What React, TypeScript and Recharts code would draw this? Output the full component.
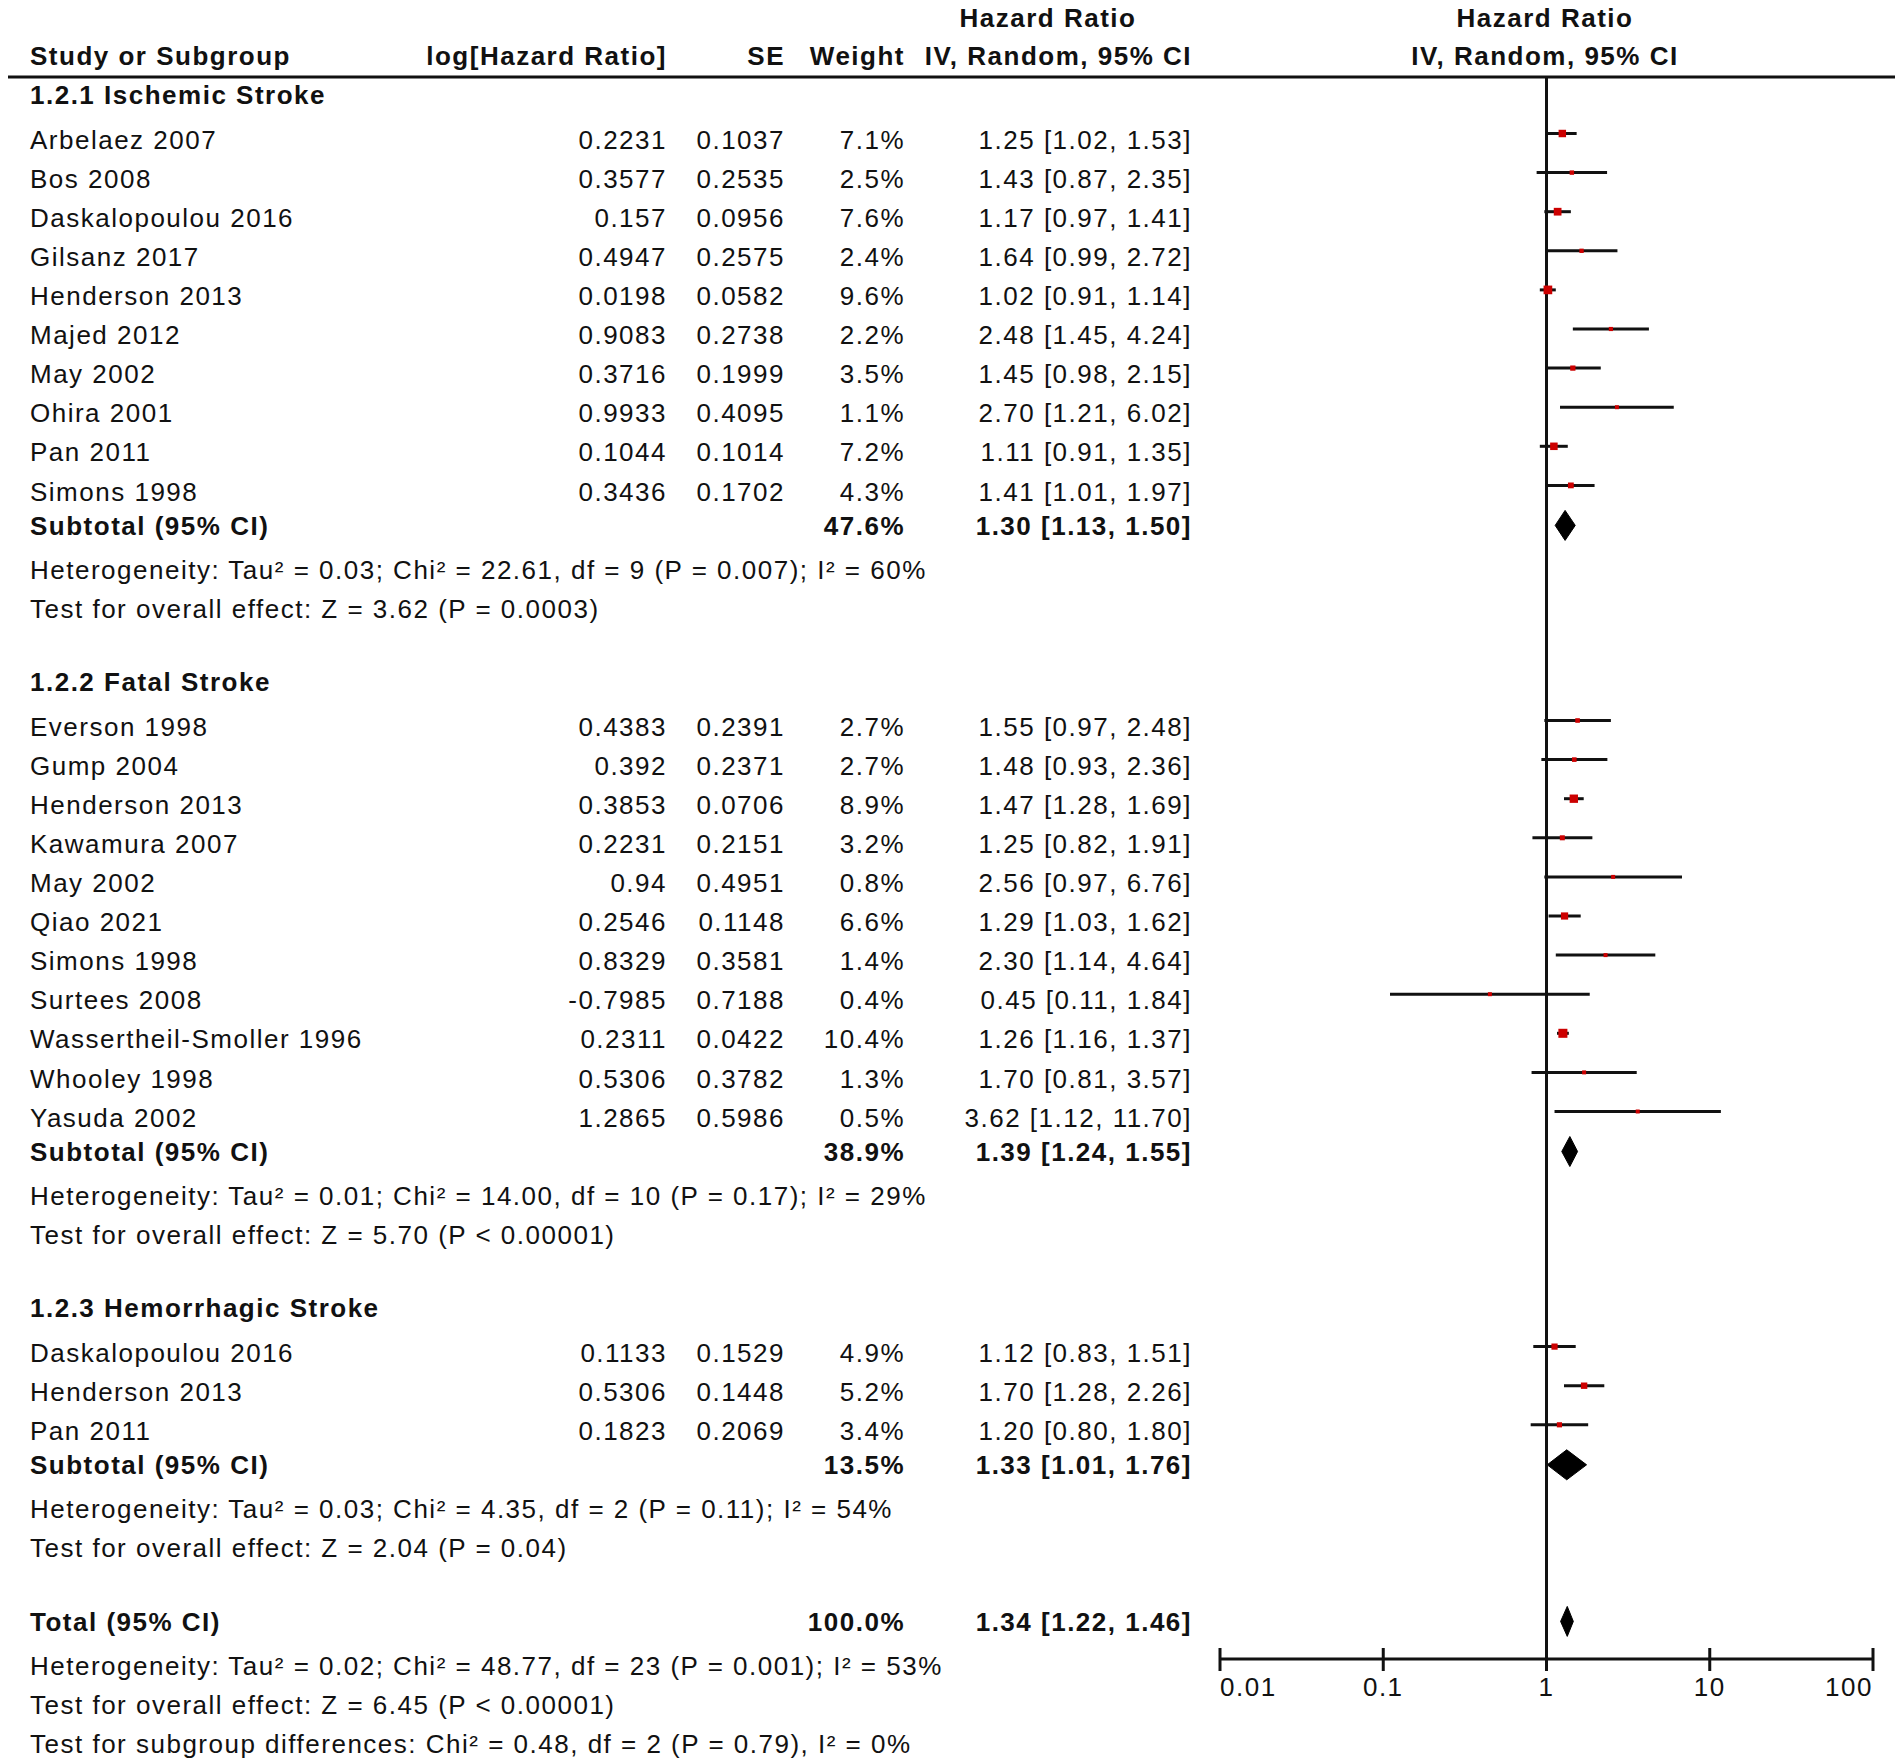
import React from "react";
import {
  ComposedChart,
  XAxis,
  YAxis,
  Scatter,
  ErrorBar,
  Area,
  ReferenceLine,
} from "recharts";

// ---- data ----
const ischemicStudies = [
  { name: "Arbelaez 2007", logHR: "0.2231", se: "0.1037", weight: 7.1, hr: 1.25, lo: 1.02, hi: 1.53 },
  { name: "Bos 2008", logHR: "0.3577", se: "0.2535", weight: 2.5, hr: 1.43, lo: 0.87, hi: 2.35 },
  { name: "Daskalopoulou 2016", logHR: "0.157", se: "0.0956", weight: 7.6, hr: 1.17, lo: 0.97, hi: 1.41 },
  { name: "Gilsanz 2017", logHR: "0.4947", se: "0.2575", weight: 2.4, hr: 1.64, lo: 0.99, hi: 2.72 },
  { name: "Henderson 2013", logHR: "0.0198", se: "0.0582", weight: 9.6, hr: 1.02, lo: 0.91, hi: 1.14 },
  { name: "Majed 2012", logHR: "0.9083", se: "0.2738", weight: 2.2, hr: 2.48, lo: 1.45, hi: 4.24 },
  { name: "May 2002", logHR: "0.3716", se: "0.1999", weight: 3.5, hr: 1.45, lo: 0.98, hi: 2.15 },
  { name: "Ohira 2001", logHR: "0.9933", se: "0.4095", weight: 1.1, hr: 2.7, lo: 1.21, hi: 6.02 },
  { name: "Pan 2011", logHR: "0.1044", se: "0.1014", weight: 7.2, hr: 1.11, lo: 0.91, hi: 1.35 },
  { name: "Simons 1998", logHR: "0.3436", se: "0.1702", weight: 4.3, hr: 1.41, lo: 1.01, hi: 1.97 },
];

const fatalStudies = [
  { name: "Everson 1998", logHR: "0.4383", se: "0.2391", weight: 2.7, hr: 1.55, lo: 0.97, hi: 2.48 },
  { name: "Gump 2004", logHR: "0.392", se: "0.2371", weight: 2.7, hr: 1.48, lo: 0.93, hi: 2.36 },
  { name: "Henderson 2013", logHR: "0.3853", se: "0.0706", weight: 8.9, hr: 1.47, lo: 1.28, hi: 1.69 },
  { name: "Kawamura 2007", logHR: "0.2231", se: "0.2151", weight: 3.2, hr: 1.25, lo: 0.82, hi: 1.91 },
  { name: "May 2002", logHR: "0.94", se: "0.4951", weight: 0.8, hr: 2.56, lo: 0.97, hi: 6.76 },
  { name: "Qiao 2021", logHR: "0.2546", se: "0.1148", weight: 6.6, hr: 1.29, lo: 1.03, hi: 1.62 },
  { name: "Simons 1998", logHR: "0.8329", se: "0.3581", weight: 1.4, hr: 2.3, lo: 1.14, hi: 4.64 },
  { name: "Surtees 2008", logHR: "-0.7985", se: "0.7188", weight: 0.4, hr: 0.45, lo: 0.11, hi: 1.84 },
  { name: "Wassertheil-Smoller 1996", logHR: "0.2311", se: "0.0422", weight: 10.4, hr: 1.26, lo: 1.16, hi: 1.37 },
  { name: "Whooley 1998", logHR: "0.5306", se: "0.3782", weight: 1.3, hr: 1.7, lo: 0.81, hi: 3.57 },
  { name: "Yasuda 2002", logHR: "1.2865", se: "0.5986", weight: 0.5, hr: 3.62, lo: 1.12, hi: 11.7 },
];

const hemorrhagicStudies = [
  { name: "Daskalopoulou 2016", logHR: "0.1133", se: "0.1529", weight: 4.9, hr: 1.12, lo: 0.83, hi: 1.51 },
  { name: "Henderson 2013", logHR: "0.5306", se: "0.1448", weight: 5.2, hr: 1.7, lo: 1.28, hi: 2.26 },
  { name: "Pan 2011", logHR: "0.1823", se: "0.2069", weight: 3.4, hr: 1.2, lo: 0.8, hi: 1.8 },
];

const groupTitles = ["1.2.1 Ischemic Stroke", "1.2.2 Fatal Stroke", "1.2.3 Hemorrhagic Stroke"];
const groupStudies = [ischemicStudies, fatalStudies, hemorrhagicStudies];

const subtotals = [
  { weight: 47.6, hr: 1.3, lo: 1.13, hi: 1.5 },
  { weight: 38.9, hr: 1.39, lo: 1.24, hi: 1.55 },
  { weight: 13.5, hr: 1.33, lo: 1.01, hi: 1.76 },
];

const heterogeneityNotes = [
  "Heterogeneity: Tau² = 0.03; Chi² = 22.61, df = 9 (P = 0.007); I² = 60%",
  "Heterogeneity: Tau² = 0.01; Chi² = 14.00, df = 10 (P = 0.17); I² = 29%",
  "Heterogeneity: Tau² = 0.03; Chi² = 4.35, df = 2 (P = 0.11); I² = 54%",
];

const effectNotes = [
  "Test for overall effect: Z = 3.62 (P = 0.0003)",
  "Test for overall effect: Z = 5.70 (P < 0.00001)",
  "Test for overall effect: Z = 2.04 (P = 0.04)",
];

const overall = { weight: 100.0, hr: 1.34, lo: 1.22, hi: 1.46 };

const overallNotes = [
  "Heterogeneity: Tau² = 0.02; Chi² = 48.77, df = 23 (P = 0.001); I² = 53%",
  "Test for overall effect: Z = 6.45 (P < 0.00001)",
  "Test for subgroup differences: Chi² = 0.48, df = 2 (P = 0.79), I² = 0%",
];

const axisTicks = [0.01, 0.1, 1, 10, 100];

// ---- layout ----
const W = 1902;
const H = 1763;
const PLOT_TOP = 77;
const AXIS_Y = 1659;
const PLOT_LEFT = 1220;
const PLOT_RIGHT = 1873;

const NAME_X = 30;
const LOG_X = 667;
const SE_X = 785;
const WEIGHT_X = 905;
const CI_X = 1192;
const CI_HEAD_X = 1048;
const PLOT_HEAD_X = 1545;

const ROW = 39.1;
const SECTION_GAP = 44.5;
const SUBTOTAL_GAP = 34;
const NOTE_GAP = 44;
const BLOCK_GAP = 73.5;

const INK = "#111";
const font = {
  fontFamily: "'Liberation Sans', Arial, sans-serif",
  fontSize: 26,
  letterSpacing: 1.5,
  fill: INK,
};

const ci = (d: { hr: number; lo: number; hi: number }) =>
  `${d.hr.toFixed(2)} [${d.lo.toFixed(2)}, ${d.hi.toFixed(2)}]`;

type Row = { kind: string; y: number; [k: string]: any };

function buildRows(): Row[] {
  const rows: Row[] = [
    { kind: "head1", y: 18 },
    { kind: "head2", y: 56 },
    { kind: "rule", y: PLOT_TOP },
  ];
  let y = 95;
  groupStudies.forEach((studies, g) => {
    rows.push({ kind: "section", y, text: groupTitles[g] });
    y += SECTION_GAP;
    studies.forEach((s, i) => {
      rows.push({ kind: "study", y, ...s });
      if (i < studies.length - 1) y += ROW;
    });
    y += SUBTOTAL_GAP;
    rows.push({ kind: "subtotal", y, label: "Subtotal (95% CI)", ...subtotals[g] });
    y += NOTE_GAP;
    rows.push({ kind: "note", y, text: heterogeneityNotes[g] });
    y += ROW;
    rows.push({ kind: "note", y, text: effectNotes[g] });
    y += BLOCK_GAP;
  });
  rows.push({ kind: "subtotal", y, label: "Total (95% CI)", ...overall });
  y += NOTE_GAP;
  overallNotes.forEach((t, i) => {
    rows.push({ kind: "note", y, text: t });
    if (i < overallNotes.length - 1) y += ROW;
  });
  return rows;
}

const rows = buildRows();
const rowByY = new Map(rows.map((r) => [r.y, r]));

const studyPoints = rows
  .filter((r) => r.kind === "study")
  .map((r) => ({ x: r.hr, y: r.y - 6, w: r.weight, err: [r.hr - r.lo, r.hi - r.hr] }));

const diamonds = rows
  .filter((r) => r.kind === "subtotal")
  .map((r) => [
    { x: r.lo, band: [r.y, r.y] },
    { x: r.hr, band: [r.y - 15, r.y + 15] },
    { x: r.hi, band: [r.y, r.y] },
  ]);

function T(props: any) {
  const { bold, ...rest } = props;
  return <text dy="0.35em" {...font} fontWeight={bold ? "bold" : "normal"} {...rest} />;
}

function RowTick(props: any) {
  const y = props.y;
  const r = rowByY.get(props.payload.value);
  if (!r) return null;
  switch (r.kind) {
    case "head1":
      return (
        <g>
          <T x={CI_HEAD_X} y={y} bold textAnchor="middle">Hazard Ratio</T>
          <T x={PLOT_HEAD_X} y={y} bold textAnchor="middle">Hazard Ratio</T>
        </g>
      );
    case "head2":
      return (
        <g>
          <T x={NAME_X} y={y} bold>Study or Subgroup</T>
          <T x={LOG_X} y={y} bold textAnchor="end">log[Hazard Ratio]</T>
          <T x={SE_X} y={y} bold textAnchor="end">SE</T>
          <T x={WEIGHT_X} y={y} bold textAnchor="end">Weight</T>
          <T x={CI_X} y={y} bold textAnchor="end">IV, Random, 95% CI</T>
          <T x={PLOT_HEAD_X} y={y} bold textAnchor="middle">IV, Random, 95% CI</T>
        </g>
      );
    case "rule":
      return <line x1={8} x2={1895} y1={y} y2={y} stroke={INK} strokeWidth={3} />;
    case "section":
      return <T x={NAME_X} y={y} bold>{r.text}</T>;
    case "study":
      return (
        <g>
          <T x={NAME_X} y={y}>{r.name}</T>
          <T x={LOG_X} y={y} textAnchor="end">{r.logHR}</T>
          <T x={SE_X} y={y} textAnchor="end">{r.se}</T>
          <T x={WEIGHT_X} y={y} textAnchor="end">{r.weight.toFixed(1)}%</T>
          <T x={CI_X} y={y} textAnchor="end">{ci(r as any)}</T>
        </g>
      );
    case "subtotal":
      return (
        <g>
          <T x={NAME_X} y={y} bold>{r.label}</T>
          <T x={WEIGHT_X} y={y} bold textAnchor="end">{r.weight.toFixed(1)}%</T>
          <T x={CI_X} y={y} bold textAnchor="end">{ci(r as any)}</T>
        </g>
      );
    default:
      return <T x={NAME_X} y={y}>{r.text}</T>;
  }
}

function HrTick(props: any) {
  const { x, y, payload, index } = props;
  const anchor = index === 0 ? "start" : index === axisTicks.length - 1 ? "end" : "middle";
  return (
    <g>
      <line x1={x} x2={x} y1={y - 11} y2={y + 12} stroke={INK} strokeWidth={3} />
      <T x={x} y={y + 28} textAnchor={anchor}>{String(payload.value)}</T>
    </g>
  );
}

function StudyBox(props: any) {
  const { cx, cy, payload } = props;
  const s = Math.max(4, 2.8 * Math.sqrt(payload.w));
  return <rect x={cx - s / 2} y={cy - s / 2} width={s} height={s} fill="#cc0000" />;
}

export default function App() {
  return (
    <div style={{ position: "absolute", left: 0, top: 0, width: W, height: H, background: "#fff" }}>
      <ComposedChart
        width={W}
        height={H}
        margin={{ top: PLOT_TOP, right: W - PLOT_RIGHT, bottom: 0, left: 0 }}
      >
        <XAxis
          dataKey="x"
          type="number"
          scale="log"
          domain={[0.01, 100]}
          ticks={axisTicks}
          allowDataOverflow
          interval={0}
          height={H - AXIS_Y}
          tickSize={0}
          tickMargin={0}
          tickLine={false}
          axisLine={{ stroke: INK, strokeWidth: 3 }}
          tick={<HrTick />}
        />
        <YAxis
          dataKey="y"
          type="number"
          reversed
          domain={[PLOT_TOP, AXIS_Y]}
          allowDataOverflow
          ticks={rows.map((r) => r.y)}
          interval={0}
          width={PLOT_LEFT}
          axisLine={false}
          tickLine={false}
          tickSize={0}
          tick={<RowTick />}
        />
        <ReferenceLine x={1} stroke={INK} strokeWidth={3} />
        {diamonds.map((d, i) => (
          <Area
            key={i}
            data={d}
            dataKey="band"
            type="linear"
            stroke="#000"
            strokeWidth={1}
            fill="#000"
            fillOpacity={1}
            dot={false}
            activeDot={false}
            isAnimationActive={false}
          />
        ))}
        <Scatter data={studyPoints} shape={<StudyBox />} isAnimationActive={false}>
          <ErrorBar dataKey="err" direction="x" width={0} stroke={INK} strokeWidth={3} />
        </Scatter>
      </ComposedChart>
    </div>
  );
}
